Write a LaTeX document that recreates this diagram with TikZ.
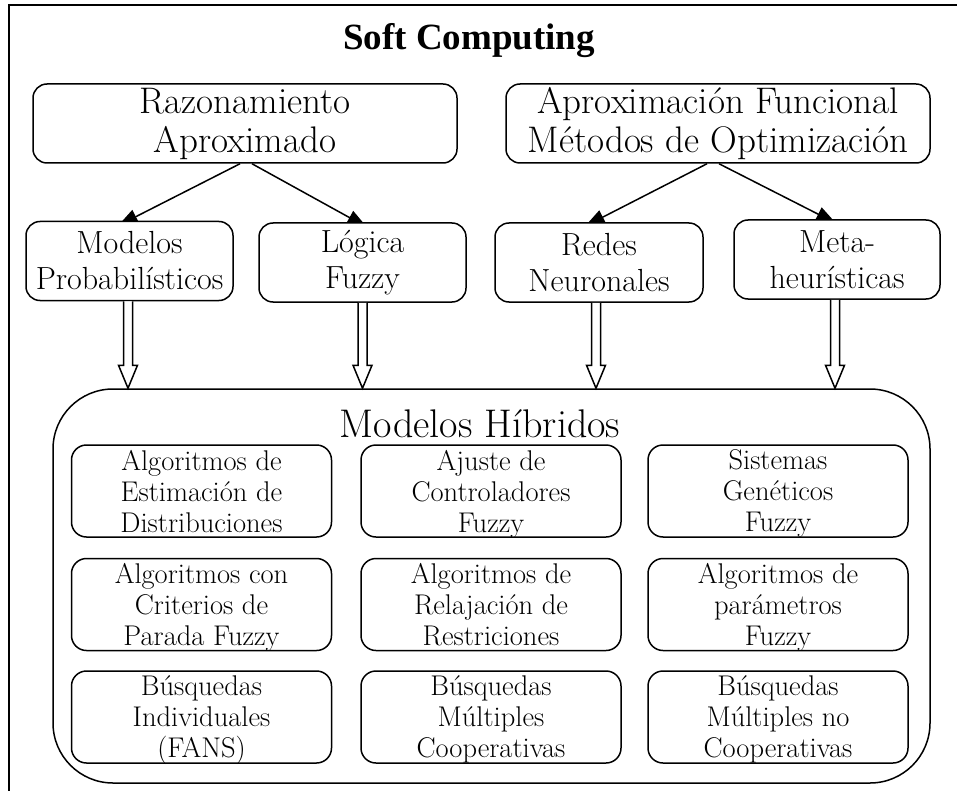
\documentclass[tikz,border=0pt]{standalone}
\usepackage{fontspec}
\newfontfamily\titlefont{Liberation Serif}
\usetikzlibrary{arrows.meta,calc,backgrounds}
\newcommand\hollowarr[2]{%
  \draw[hol] ($(#1.south)+(#2-4.5,0)$) -- ($(#1.south |- hyb.north)+(#2-4.5,-23)$) -- ++(-5,0)
    -- ($(#1.south |- hyb.north)+(#2,0)$) -- ($(#1.south |- hyb.north)+(#2+9.5,-23)$) -- ++(-5,0)
    -- ($(#1.south)+(#2+4.5,0)$);}
\begin{document}
\begin{tikzpicture}[x=1pt,y=-1pt,
  every node/.style={inner sep=0pt, align=center},
  topbox/.style={draw, line width=1.5pt, rounded corners=14pt, fill=white, minimum height=79pt, font=\fontsize{37}{39}\selectfont},
  midbox/.style={draw, line width=1.5pt, rounded corners=14pt, fill=white, minimum width=207pt, minimum height=79pt, font=\fontsize{32}{36}\selectfont},
  inbox/.style={draw, line width=1.5pt, rounded corners=15pt, fill=white, minimum width=260pt, minimum height=92pt, text depth=0pt, font=\fontsize{28.5}{31}\selectfont},
  arr/.style={line width=1.5pt, -{Triangle[length=20pt,width=15pt]}},
  hol/.style={line width=1.5pt, line join=miter, fill=white}
]
\useasboundingbox (0,0) rectangle (957,791);
\draw[line width=2pt] (957,5) -- (9,5) -- (9,791);

\node[anchor=base, font=\titlefont\bfseries\fontsize{37}{40}\selectfont] (title) at (469,50) {Soft Computing};

\node[topbox, minimum width=424pt] (raz) at (245,123.5) {Razonamiento\\Aproximado};
\node[topbox, minimum width=424pt] (apf) at (718,123.5) {Aproximación Funcional\\Métodos de Optimización};

\node[midbox] (mp) at (129.5,261) {Modelos\\Probabilísticos};
\node[midbox] (lf) at (362.5,262.5) {Lógica\\Fuzzy};
\node[midbox, minimum width=208pt] (rn) at (599,262.5) {Redes\\Neuronales};
\node[midbox, minimum width=206pt] (mh) at (837,259.5) {Meta-\\heurísticas};

\begin{scope}[on background layer]
\draw[arr] ([xshift=-5pt]raz.south) -- ([xshift=-11.5pt,yshift=-5pt]mp.north);
\draw[arr] ([xshift=7pt]raz.south) -- ([xshift=4.5pt,yshift=-5pt]lf.north);
\draw[arr] ([xshift=-11pt]apf.south) -- ([xshift=-14pt,yshift=-4pt]rn.north);
\draw[arr] ([xshift=1pt]apf.south) -- ([xshift=-1pt,yshift=-4pt]mh.north);
\end{scope}

\node[draw, line width=1.5pt, rounded corners=60pt, minimum width=877pt, minimum height=394pt] (hyb) at (491.5,586) {};
\node[anchor=base, font=\fontsize{40}{44}\selectfont] (hybt) at (480,437) {Modelos Híbridos};

\hollowarr{mp}{-1.5}
\hollowarr{lf}{0}
\hollowarr{rn}{-3}
\hollowarr{mh}{-2}

\node[inbox] (b11) at (201.5,491) {Algoritmos de\\Estimación de\\Distribuciones};
\node[inbox] (b12) at (491,491) {Ajuste de\\Controladores\\Fuzzy};
\node[inbox] (b13) at (778,491) {Sistemas\\Genéticos\\Fuzzy};
\node[inbox] (b21) at (201.5,604.5) {Algoritmos con\\Criterios de\\Parada Fuzzy};
\node[inbox] (b22) at (491,604.5) {Algoritmos de\\Relajación de\\Restriciones};
\node[inbox] (b23) at (778,604.5) {Algoritmos de\\parámetros\\Fuzzy};
\node[inbox] (b31) at (201.5,717) {Búsquedas\\Individuales\\(FANS)};
\node[inbox] (b32) at (491,717) {Búsquedas\\Múltiples\\Cooperativas};
\node[inbox] (b33) at (778,717) {Búsquedas\\Múltiples no\\Cooperativas};
\end{tikzpicture}
\end{document}
